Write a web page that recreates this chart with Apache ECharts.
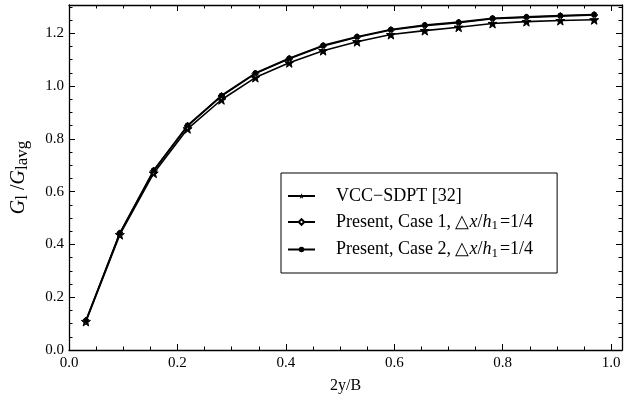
<!DOCTYPE html>
<html>
<head>
<meta charset="utf-8">
<script src="https://cdn.jsdelivr.net/npm/echarts@6/dist/echarts.min.js"></script>
<style>
html,body{margin:0;padding:0;background:#fff;}
#c{width:626px;height:402px;}
</style>
</head>
<body>
<div id="c"></div>
<script>
const xValues = [0.03125, 0.09375, 0.15625, 0.21875, 0.28125, 0.34375, 0.40625, 0.46875, 0.53125, 0.59375, 0.65625, 0.71875, 0.78125, 0.84375, 0.90625, 0.96875];
const vccSdpt = [0.108, 0.437, 0.670, 0.838, 0.948, 1.032, 1.088, 1.134, 1.168, 1.195, 1.210, 1.223, 1.237, 1.244, 1.248, 1.251];
const presentCase1 = [0.111, 0.442, 0.679, 0.849, 0.962, 1.047, 1.103, 1.152, 1.185, 1.212, 1.229, 1.240, 1.255, 1.260, 1.265, 1.269];
const presentCase2 = [0.112, 0.443, 0.681, 0.851, 0.964, 1.049, 1.105, 1.154, 1.187, 1.214, 1.231, 1.242, 1.257, 1.262, 1.267, 1.271];
const seriesNames = ['VCC\u2212SDPT [32]', 'Present, Case 1, \u25B3x/h1=1/4', 'Present, Case 2, \u25B3x/h1=1/4'];
const xTickLabels = ['0.0', '0.2', '0.4', '0.6', '0.8', '1.0'];
const yTickLabels = ['0.0', '0.2', '0.4', '0.6', '0.8', '1.0', '1.2'];

const FONT = 'Liberation Serif';
const starPath = 'path://M0,-10 L2.35,-3.24 L9.51,-3.09 L3.8,1.24 L5.88,8.09 L0,4 L-5.88,8.09 L-3.8,1.24 L-9.51,-3.09 L-2.35,-3.24 Z';

const X_MAX = 1.02, Y_MAX = 1.307;
function pairs(ys){ return xValues.map((x,i)=>[x, ys[i]]); }

function fmt(list){ return function(v){ const s=(Math.round(v*100)/100).toFixed(1); return list.indexOf(s)>=0 && Math.abs(v*5-Math.round(v*5))<1e-6 ? s : ''; }; }

function xAx(pos, major, labels){
  return {
    type:'value', position:pos, min:0, max:X_MAX, interval: major?0.2:0.05,
    axisLine:{show: major, onZero:false, lineStyle:{color:'#000', width:1.3}},
    axisTick:{show:true, inside:true, length: major?6:3.5, lineStyle:{color:'#000', width:1}},
    axisLabel:{show: labels, showMaxLabel:false, formatter: fmt(xTickLabels), color:'#000', fontFamily:FONT, fontSize:15, margin:6},
    splitLine:{show:false},
    name: labels ? '2y/B' : '', nameLocation:'middle', nameGap:28,
    nameTextStyle:{color:'#000', fontFamily:FONT, fontSize:16}
  };
}
function yAx(pos, major, labels){
  return {
    type:'value', position:pos, min:0, max:Y_MAX, interval: major?0.2:0.05,
    axisLine:{show: major, onZero:false, lineStyle:{color:'#000', width:1.3}},
    axisTick:{show:true, inside:true, length: major?6:3.5, lineStyle:{color:'#000', width:1}},
    axisLabel:{show: labels, showMaxLabel:false, formatter: fmt(yTickLabels), color:'#000', fontFamily:FONT, fontSize:15, margin:5},
    splitLine:{show:false},
    name: labels ? '{i|G}{s|l}{n| /}{i|G}{s|lavg}' : '', nameLocation:'middle', nameGap:38,
    nameTextStyle:{color:'#000', fontFamily:FONT, fontSize:19,
      rich:{
        i:{fontFamily:FONT, fontStyle:'italic', fontSize:20, color:'#000'},
        n:{fontFamily:FONT, fontSize:20, color:'#000'},
        s:{fontFamily:FONT, fontSize:17, color:'#000', padding:[8,0,0,0]}
      }}
  };
}

const chart = echarts.init(document.getElementById('c'), null, {renderer:'canvas'});
const lineStyle = {color:'#000', width:1.6};
chart.setOption({
  animation:false,
  backgroundColor:'#fff',
  grid:{left:69, right:4, top:5, bottom:52, containLabel:false},
  xAxis:[xAx('bottom',true,true), xAx('bottom',false,false), xAx('top',true,false), xAx('top',false,false)],
  yAxis:[yAx('left',true,true), yAx('left',false,false), yAx('right',true,false), yAx('right',false,false)],
  legend:{
    orient:'vertical', left:281, top:173,
    padding:[14,24,13,6], itemGap:8, itemWidth:27, itemHeight:7,
    borderColor:'#000', borderWidth:1, backgroundColor:'#fff',
    data: seriesNames,
    formatter:function(name){
      if(name===seriesNames[0]) return '{n|'+name+'}';
      const parts = name.split(', ');
      return '{n|'+parts[0]+', '+parts[1]+', }{n|\u25B3}{i|x}{n|/}{i|h}{s|1}{n|=1/4}';
    },
    textStyle:{color:'#000', fontFamily:FONT, fontSize:18, padding:[0,0,0,16],
      rich:{
        n:{fontFamily:FONT, fontSize:18, color:'#000'},
        i:{fontFamily:FONT, fontSize:18, fontStyle:'italic', color:'#000'},
        s:{fontFamily:FONT, fontSize:13, color:'#000', padding:[8,2,0,0]}
      }}
  },
  series:[
    {name:seriesNames[0], type:'line', data:pairs(vccSdpt), xAxisIndex:0, yAxisIndex:0,
     symbol:starPath, symbolSize:9, itemStyle:{color:'#000', borderColor:'#000'}, lineStyle:lineStyle, z:3},
    {name:seriesNames[1], type:'line', data:pairs(presentCase1), xAxisIndex:0, yAxisIndex:0,
     symbol:'diamond', symbolSize:7, itemStyle:{color:'#fff', borderColor:'#000', borderWidth:1}, lineStyle:lineStyle, z:4},
    {name:seriesNames[2], type:'line', data:pairs(presentCase2), xAxisIndex:0, yAxisIndex:0,
     symbol:'circle', symbolSize:5, itemStyle:{color:'#000', borderColor:'#000'}, lineStyle:lineStyle, z:5}
  ]
});
</script>
</body>
</html>
